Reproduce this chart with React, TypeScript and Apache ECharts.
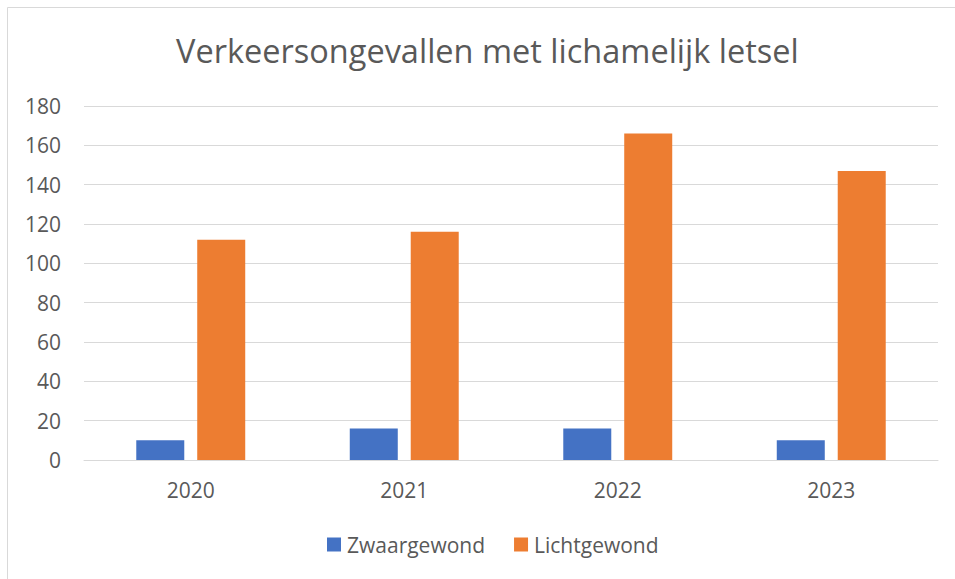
import React, { useEffect, useRef } from "react";
import * as echarts from "echarts";

const categories = ["2020", "2021", "2022", "2023"];
const zwaargewond = [10, 16, 16, 10];
const lichtgewond = [112, 116, 166, 147];
const seriesNames = ["Zwaargewond", "Lichtgewond"];
const titleText = "Verkeersongevallen met lichamelijk letsel";

export default function App() {
  const ref = useRef<HTMLDivElement>(null);
  useEffect(() => {
    if (!ref.current) return;
    const chart = echarts.init(ref.current, null, { renderer: "svg" });
    const font = "'Open Sans', 'Noto Sans', sans-serif";
    chart.setOption({
      animation: false,
      backgroundColor: "#ffffff",
      textStyle: { fontFamily: font },
      title: {
        text: titleText,
        left: 176,
        top: 34,
        padding: 0,
        textStyle: { fontFamily: font, fontSize: 32.5, fontWeight: "normal", color: "#595959" },
      },
      graphic: [
        { type: "line", shape: { x1: 7.5, y1: 7.5, x2: 955, y2: 7.5 }, style: { stroke: "#d9d9d9", lineWidth: 1 } },
        { type: "line", shape: { x1: 7.5, y1: 7.5, x2: 7.5, y2: 579 }, style: { stroke: "#d9d9d9", lineWidth: 1 } },
      ],
      legend: {
        data: seriesNames,
        bottom: 24,
        left: 327,
        padding: 0,
        itemWidth: 14,
        itemHeight: 14,
        itemGap: 29,
        icon: "rect",
        textStyle: { fontFamily: font, fontSize: 21, color: "#595959", padding: [0, 0, 0, 1] },
      },
      grid: { left: 84, right: 17, top: 106, bottom: 119, containLabel: false },
      xAxis: {
        type: "category",
        data: categories,
        axisLine: { lineStyle: { color: "#d9d9d9", width: 1 } },
        axisTick: { show: false },
        axisLabel: { fontFamily: font, fontSize: 21, color: "#595959", margin: 19 },
      },
      yAxis: {
        type: "value",
        min: 0,
        max: 180,
        interval: 20,
        axisLine: { show: false },
        axisTick: { show: false },
        splitLine: { lineStyle: { color: "#d9d9d9", width: 1 } },
        axisLabel: { fontFamily: font, fontSize: 21, color: "#595959", margin: 23 },
      },
      series: [
        {
          name: seriesNames[0],
          type: "bar",
          data: zwaargewond,
          barWidth: 48,
          barGap: "27%",
          itemStyle: { color: "#4472C4" },
        },
        {
          name: seriesNames[1],
          type: "bar",
          data: lichtgewond,
          barWidth: 48,
          barGap: "27%",
          itemStyle: { color: "#ED7D31" },
        },
      ],
    });
    return () => chart.dispose();
  }, []);
  return (
    <div
      ref={ref}
      style={{ position: "fixed", left: 0, top: 0, width: 955, height: 579 }}
    />
  );
}
